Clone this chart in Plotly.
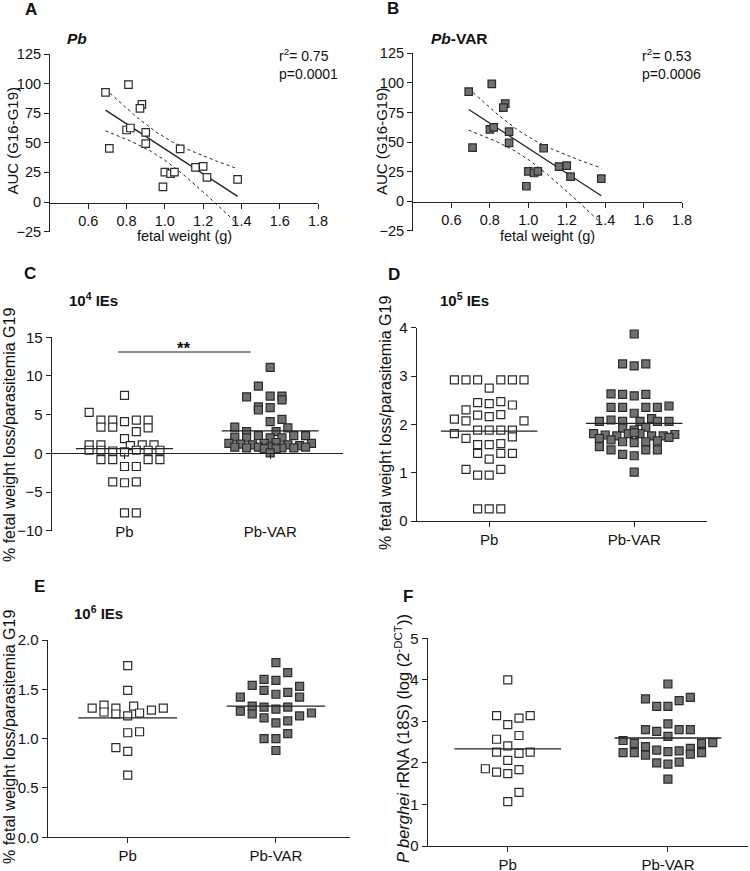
import numpy as np
import plotly.graph_objects as go

W, H = 750, 871
FONT = "Liberation Sans, Arial, sans-serif"
AX = "#222222"
TXT = "#111111"
OPEN = "white"
FILLED = "#707070"
EDGE = "#2b2b2b"

# ---------------- data ----------------
# A / B : AUC (G16-G19) against fetal weight (same animals in both panels)
fetal_weight = [0.69, 0.81, 0.88, 0.87, 0.71, 0.80, 0.82, 0.90, 0.90,
                1.08, 1.00, 1.03, 1.05, 0.99, 1.16, 1.20, 1.22, 1.38]
auc = [92.6, 99.1, 82.5, 79.1, 45.3, 60.8, 62.5, 58.8, 49.3,
       44.8, 25.3, 23.9, 25.3, 12.7, 29.3, 30.1, 20.8, 19.1]
stats_a = "r<sup>2</sup>= 0.75<br>p=0.0001"
stats_b = "r<sup>2</sup>= 0.53<br>p=0.0006"

groups = ["Pb", "Pb-VAR"]

# C : 10^4 IEs  (values + column slot of the scatter-dot layout)
c_pb = [7.5, 5.3, 4.3, 4.3, 4.1, 4.3, 4.3, 3.4, 3.4, 3.3, 2.8, 1.9,
        1.1, 1.1, 1.0, 1.1, 1.1, 0.4, 0.4, 0.3, 0.2, 0.4, 0.4, 0.4,
        -0.8, -0.8, -0.8, -0.8, -1.7, -1.7, -3.7, -3.8, -3.7, -7.7, -7.7]
c_pb_col = [0, -3, -2, -1, 0, 1, 2, -2, -1, 2, 1, 0,
            -3, -2, 0.5, 1.5, 2.5, -3, -2, -1, 0, 1, 2, 3,
            -2, -1, 2, 3, 0, 1, -1, 0, 1, 0, 1]
c_var = [11.1, 8.7, 7.3, 7.4, 7.4, 6.9, 6.0, 5.6, 5.9, 4.1, 4.4, 3.4, 3.3,
         2.8, 2.8, 2.3, 2.3, 2.3, 2.1, 2.0, 2.0, 2.0,
         1.3, 1.2, 1.1, 1.3, 1.4, 1.1, 1.0, 1.3,
         0.8, 0.7, 0.8, 0.8, 0.7, 0.7, 0.8, 0.6, 0.6, 0.05]
c_var_col = [0, -1, -2, 0, 1, 1, -1, -1, 0, 0, 1, -3, 1.5,
             -2, 0.5, -1, 2, 3, -3, -2, 0, 1,
             -3.5, -2.5, -1.5, -0.5, 0.5, 1.5, 2.5, 3.5,
             -3, -2, -1, 0, 1, 2, 3, 0.5, -0.5, 0]
c_means = [0.6, 2.9]

# D : 10^5 IEs
d_pb = [2.92, 2.92, 2.92, 2.92, 2.92, 2.92, 2.75, 2.45, 2.43, 2.47, 2.40, 2.30,
        2.19, 2.16, 2.20, 2.11, 2.07, 2.07, 1.81, 1.88, 1.88, 1.88, 1.88, 1.74, 1.71,
        1.58, 1.58, 1.60, 1.40, 1.40, 1.40, 1.28, 1.07, 0.95, 0.95, 1.07,
        0.25, 0.25, 0.25]
d_pb_col = [-3, -2, -1, 1, 2, 3, 0, -1, 0, 1, 2, -2,
            -1, 0, 1, -3, -2, 3, -3, -1, 0, 1, 2, 2, -2,
            -1, 0, 1, -1, 1, 2, 0, -2, -1, 0, 1,
            -1, 0, 1]
d_var = [3.87, 3.25, 3.21, 3.25, 2.63, 2.62, 2.59, 2.62,
         2.35, 2.35, 2.35, 2.35, 2.38, 2.23,
         2.12, 2.06, 2.09, 2.06, 2.06, 2.06, 2.06, 1.92, 1.94, 1.88,
         1.81, 1.78, 1.76, 1.81, 1.81, 1.76, 1.76, 1.79, 1.83,
         1.71, 1.68, 1.64, 1.62, 1.64, 1.66, 1.73,
         1.54, 1.47, 1.38, 1.35, 1.47, 1.47, 1.01]
d_var_col = [0, -1, 0, 1, -2, -1, 0, 1,
             -2, -1, 1, 2, 3, 0,
             1.5, -3, -2, -1, 0.5, 2, 3, -1, 1, 0,
             -3.5, -2.5, -1.5, -0.5, 0.5, 1.5, 2.5, 3.5, 0,
             -3, -2, -1, 0, 1, 2, 3,
             -3, -2, -1, 0, 1, 2, 0]
d_means = [1.86, 2.02]

# E : 10^6 IEs
e_pb = [1.74, 1.49, 1.31, 1.34, 1.27, 1.31, 1.25, 1.23, 1.33, 1.26, 1.29, 1.31,
        1.06, 1.07, 0.91, 0.87, 0.63]
e_pb_col = [0, 0, -3, -2, -2, -1, -1, 0, 0.5, 1, 2, 3, 0, 1, -1, 0, 0]
e_var = [1.77, 1.67, 1.60, 1.59, 1.54, 1.53, 1.49, 1.47, 1.45, 1.42, 1.42,
         1.33, 1.32, 1.32, 1.30, 1.28, 1.26, 1.25, 1.23, 1.21, 1.18, 1.16,
         1.05, 1.00, 1.00, 0.88]
e_var_col = [0, 1, -1, 0, -2, 2, -1, 1, 0, 2, -3,
             -2, -1, 1, 0, -3, 3, -2, 2, -1, 1, 0,
             1, -1, 0, 0]
e_means = [1.21, 1.33]

# F : P. berghei 18S rRNA
f_pb = [4.0, 3.14, 3.08, 3.14, 2.92, 2.66, 2.57, 2.41, 2.26, 2.23, 2.26, 2.06,
        1.86, 1.78, 1.74, 1.84, 1.29, 1.07]
f_pb_col = [0, -1, 1, 2, 0, 1, -1, 0, -1, 1, 2, 0, -2, -1, 0, 1, 1, 0]
f_var = [3.9, 3.54, 3.58, 3.50, 3.36, 3.36, 2.94, 2.80, 2.76, 2.80, 2.80, 2.64,
         2.54, 2.47, 2.47, 2.49, 2.39, 2.35,
         2.25, 2.25, 2.19, 2.31, 2.27, 2.29, 2.21, 2.25,
         2.0, 1.97, 2.02, 1.61]
f_var_col = [0, -2, 2, 1, -1, 0, 0, -2, -1, 1, 2, 0,
             -4, -3, 3, 4, -2, 2,
             -4, -3, -2, -1, 0, 1, 2, 3,
             -1, 0, 1, 0]
f_means = [2.34, 2.60]


def pxx(x):
    return x / W


def pxy(y):
    return 1 - y / H


def marker(fill, size=8):
    return dict(symbol="square", size=size, color=fill, line=dict(color=EDGE, width=1.2))


fig = go.Figure()

# ---------- A / B : regression with 95% CI ----------
xw = np.array(fetal_weight)
ya = np.array(auc)
n = len(xw)
slope, icpt = np.polyfit(xw, ya, 1)
resid = ya - (slope * xw + icpt)
s = np.sqrt((resid ** 2).sum() / (n - 2))
sxx = ((xw - xw.mean()) ** 2).sum()
t16 = 2.12  # t(0.975, df=16)
xs = np.linspace(xw.min(), xw.max(), 80)
fit = slope * xs + icpt
half = t16 * s * np.sqrt(1 / n + (xs - xw.mean()) ** 2 / sxx)

for xa, ya_ax, fill in [("x", "y", OPEN), ("x2", "y2", FILLED)]:
    for band in (fit + half, fit - half):
        fig.add_trace(go.Scatter(x=xs, y=band, mode="lines", xaxis=xa, yaxis=ya_ax,
                                 line=dict(color=AX, width=1, dash="dot"),
                                 showlegend=False, hoverinfo="skip"))
    fig.add_trace(go.Scatter(x=xs[[0, -1]], y=fit[[0, -1]], mode="lines", xaxis=xa, yaxis=ya_ax,
                             line=dict(color=AX, width=1.3), showlegend=False))
    fig.add_trace(go.Scatter(x=fetal_weight, y=auc, mode="markers", xaxis=xa, yaxis=ya_ax,
                             marker=marker(fill, 7.5), showlegend=False))

# ---------- C-F : column scatter with mean ----------
panels = [
    ("x3", "y3", c_pb, c_pb_col, c_var, c_var_col, c_means, 0.081),
    ("x4", "y4", d_pb, d_pb_col, d_var, d_var_col, d_means, 0.080),
    ("x5", "y5", e_pb, e_pb_col, e_var, e_var_col, e_means, 0.080),
    ("x6", "y6", f_pb, f_pb_col, f_var, f_var_col, f_means, 0.070),
]
for xa, ya_ax, v0, c0, v1, c1, means, slot in panels:
    for i, (vals, cols, fill) in enumerate([(v0, c0, OPEN), (v1, c1, FILLED)]):
        fig.add_trace(go.Scatter(x=[i + c * slot for c in cols], y=vals, mode="markers",
                                 xaxis=xa, yaxis=ya_ax, marker=marker(fill),
                                 showlegend=False))
    for i, m in enumerate(means):
        fig.add_trace(go.Scatter(x=[i - 0.333, i + 0.333], y=[m, m], mode="lines",
                                 xaxis=xa, yaxis=ya_ax, line=dict(color=AX, width=1.3),
                                 showlegend=False))


def axis(dom, rng, fs=15, **kw):
    d = dict(domain=dom, range=rng, showgrid=False, zeroline=False, showline=True,
             automargin=False,
             linecolor=AX, linewidth=1.1, ticks="outside", ticklen=5, tickwidth=1.1,
             tickcolor=AX, tickfont=dict(size=fs, color=TXT, family=FONT))
    d.update(kw)
    return d


cat_ticks = dict(tickmode="array", tickvals=[0, 1], ticktext=groups)

fig.update_layout(
    template="none",
    width=W, height=H, margin=dict(l=0, r=0, t=0, b=0, pad=0),
    paper_bgcolor="white", plot_bgcolor="white",
    font=dict(family=FONT, color=TXT),
    showlegend=False,
    # A
    xaxis=axis([pxx(50), pxx(318)], [0.4, 1.8], 14.5, anchor="free", position=pxy(202.5),
               tickmode="array", tickvals=[0.6, 0.8, 1.0, 1.2, 1.4, 1.6, 1.8],
               ticktext=["0.6", "0.8", "1.0", "1.2", "1.4", "1.6", "1.8"]),
    yaxis=axis([pxy(231.6), pxy(54)], [-25, 125], 14.5, anchor="x", dtick=25, tick0=0),
    # B
    xaxis2=axis([pxx(413), pxx(682)], [0.4, 1.8], 14.5, anchor="free", position=pxy(201.5),
                tickmode="array", tickvals=[0.6, 0.8, 1.0, 1.2, 1.4, 1.6, 1.8],
                ticktext=["0.6", "0.8", "1.0", "1.2", "1.4", "1.6", "1.8"]),
    yaxis2=axis([pxy(230.9), pxy(53.3)], [-25, 125], 14.5, anchor="x2", dtick=25, tick0=0),
    # C
    xaxis3=axis([pxx(51.7), pxx(343)], [-0.5, 1.5], anchor="free", position=pxy(453.3),
                ticklabelstandoff=60, **cat_ticks),
    yaxis3=axis([pxy(530.7), pxy(337.3)], [-10, 15], anchor="x3", dtick=5, tick0=0),
    # D
    xaxis4=axis([pxx(416.7), pxx(706.7)], [-0.5, 1.5], anchor="y4", **cat_ticks),
    yaxis4=axis([pxy(521), pxy(327.7)], [0, 4], anchor="x4", dtick=1),
    # E
    xaxis5=axis([pxx(47.7), pxx(350)], [-0.54, 1.5], anchor="y5", **cat_ticks),
    yaxis5=axis([pxy(837.3), pxy(640)], [0, 2], anchor="x5", dtick=0.5, tickformat=".1f"),
    # F
    xaxis6=axis([pxx(427.7), pxx(748)], [-0.5, 1.5], anchor="y6", **cat_ticks),
    yaxis6=axis([pxy(846), pxy(638.3)], [0, 5], anchor="x6", dtick=1),
)

# significance bar in C
fig.add_shape(type="line", xref="x3", yref="y3", x0=-0.046, x1=0.867, y0=13.1, y1=13.1,
              line=dict(color=AX, width=1.2))
fig.add_annotation(xref="x3", yref="y3", x=0.41, y=13.6, text="<b>**</b>", showarrow=False,
                   yanchor="middle", font=dict(size=17, color=TXT))


def note(text, x, y, size=15, xanchor="center", yanchor="middle", angle=0, align="center"):
    fig.add_annotation(xref="paper", yref="paper", x=pxx(x), y=pxy(y), text=text,
                       showarrow=False, xanchor=xanchor, yanchor=yanchor, textangle=angle,
                       align=align, font=dict(size=size, color=TXT, family=FONT))


# panel letters
for letter, lx, ly in [("A", 31, 9), ("B", 393, 8), ("C", 30, 273),
                       ("D", 394, 274), ("E", 39, 586), ("F", 408, 596)]:
    note(f"<b>{letter}</b>", lx, ly, 17)

# panel titles
note("<b><i>Pb</i></b>", 77, 38, 15.5)
note("<b><i>Pb</i>-VAR</b>", 459, 38, 15.5)
note("<b>10<sup>4</sup> IEs</b>", 67, 299, 15, xanchor="left")
note("<b>10<sup>5</sup> IEs</b>", 438, 299, 15, xanchor="left")
note("<b>10<sup>6</sup> IEs</b>", 72, 612, 15, xanchor="left")

# statistics
note(stats_a, 277, 44, 14, xanchor="left", yanchor="top", align="left")
note(stats_b, 640, 44, 14, xanchor="left", yanchor="top", align="left")

# axis titles
note("fetal weight (g)", 184, 236, 14.5)
note("fetal weight (g)", 547.5, 236, 14.5)
note("AUC (G16-G19)", 12.5, 141, 15, angle=-90)
note("AUC (G16-G19)", 382, 141, 15, angle=-90)
ylab = "% fetal weight loss/parasitemia G19"
note(ylab, 10, 435, 16, angle=-90)
note(ylab, 385, 423, 16, angle=-90)
note(ylab, 9, 737, 16, angle=-90)
note("<i>P berghei</i> rRNA (18S) (log (2<sup>-DCT</sup>))", 402, 739, 16.5, angle=-90)

fig.write_html("out.html", config={"displayModeBar": False},
               post_script="document.body.style.margin='0';")
